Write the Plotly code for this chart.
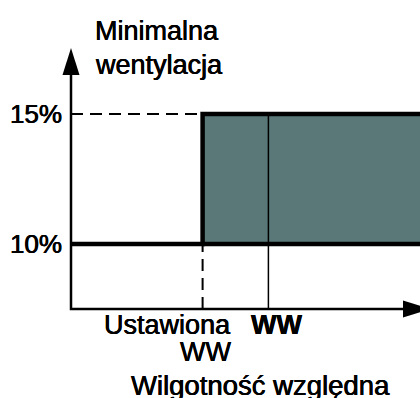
import plotly.graph_objects as go

# Minimal ventilation levels (%) and their tick labels
levels = [10, 15]
level_labels = ["10%", "15%"]

# Positions on the relative-humidity axis (arbitrary units)
setpoint_rh = 4      # "Ustawiona WW" – humidity setpoint
current_rh = 6       # "WW" – current relative humidity

x_label_setpoint = ["Ustawiona", "WW"]
x_label_current = "<b>WW</b>"
x_title = "Wilgotność względna"
y_title = ["Minimalna", "wentylacja"]

FONT = "Liberation Sans, Arial, Helvetica, sans-serif"
FILL = "#5a7878"

# scale of the diagram: pixels per axis unit
PX_X, PX_Y = 32.9, 26.0
W, H = 420, 398
X0_PX, Y0_PX = 71, 309          # where the two axes cross
x_origin, y_origin = 0.0, 7.5

x_min = x_origin - X0_PX / PX_X
x_max = x_origin + (W - X0_PX) / PX_X
y_min = y_origin - (H - Y0_PX) / PX_Y
y_max = y_origin + Y0_PX / PX_Y

lo, hi = levels
x_far = x_max + 1                # lines run off the right edge
y_arrow_tip = y_origin + (Y0_PX - 48) / PX_Y
y_arrow_base = y_arrow_tip - 27 / PX_Y
x_arrow_base = x_origin + (403 - X0_PX) / PX_X
x_arrow_tip = x_arrow_base + 27 / PX_X
half_w_x = 8.5 / PX_X
half_w_y = 8.5 / PX_Y

fig = go.Figure()

def line(xs, ys, width, dash="solid", color="black"):
    fig.add_trace(go.Scatter(x=xs, y=ys, mode="lines", hoverinfo="skip",
                             line=dict(color=color, width=width, dash=dash)))

# shaded zone: raised minimal ventilation above the setpoint
fig.add_trace(go.Scatter(x=[setpoint_rh, x_far, x_far, setpoint_rh],
                         y=[lo, lo, hi, hi], fill="toself", fillcolor=FILL,
                         mode="lines", line=dict(width=0), hoverinfo="skip"))

# guide lines
line([x_origin, setpoint_rh], [hi, hi], 2, dash="12px,7px")
line([setpoint_rh, setpoint_rh], [y_origin, lo], 2, dash="12px,7px")
line([current_rh, current_rh], [y_origin, hi], 1.5)

# step characteristic
line([x_origin, setpoint_rh, setpoint_rh, x_far], [lo, lo, hi, hi], 4.5)
line([setpoint_rh, x_far], [lo, lo], 4.5)

# axes with arrowheads
line([x_origin, x_origin, x_arrow_base], [y_arrow_base + 0.05, y_origin, y_origin], 2.5)
fig.add_trace(go.Scatter(x=[x_origin - half_w_x, x_origin, x_origin + half_w_x],
                         y=[y_arrow_base, y_arrow_tip, y_arrow_base],
                         fill="toself", fillcolor="black", mode="lines",
                         line=dict(width=0, color="black"), hoverinfo="skip"))
fig.add_trace(go.Scatter(x=[x_arrow_base, x_arrow_tip, x_arrow_base],
                         y=[y_origin - half_w_y, y_origin, y_origin + half_w_y],
                         fill="toself", fillcolor="black", mode="lines",
                         line=dict(width=0, color="black"), hoverinfo="skip"))

SHADOW = "0.35px 0 0 #000, -0.35px 0 0 #000"
tick_font = dict(family=FONT, size=26, color="black", shadow=SHADOW)
font = dict(family=FONT, size=27, color="black", shadow=SHADOW)
title_font = dict(family=FONT, size=27.5, color="black", shadow=SHADOW)

ann = []
for v, t in zip(levels, level_labels):
    ann.append(dict(x=x_origin, y=v, text=t, xanchor="right", yanchor="middle",
                    xshift=-7, showarrow=False, font=tick_font))
for i, t in enumerate(y_title):
    ann.append(dict(x=x_origin, y=hi, text=t, xanchor="left", yanchor="top",
                    xshift=22, yshift=100 - 34 * i, showarrow=False, font=font))
for i, t in enumerate(x_label_setpoint):
    ann.append(dict(x=setpoint_rh, y=y_origin, text=t, xanchor="right",
                    yanchor="top", xshift=30, yshift=1 - 27 * i,
                    showarrow=False, font=font))
ann.append(dict(x=current_rh, y=y_origin, text=x_label_current, xanchor="center",
                yanchor="top", xshift=8, yshift=1, showarrow=False, font=font))
ann.append(dict(x=current_rh, y=y_origin, text=x_title, xanchor="center",
                yanchor="top", xshift=-8, yshift=-59, showarrow=False,
                font=title_font))

fig.update_layout(
    width=W, height=H, margin=dict(l=0, r=0, t=0, b=0),
    paper_bgcolor="white", plot_bgcolor="white", showlegend=False,
    xaxis=dict(range=[x_min, x_max], visible=False, fixedrange=True),
    yaxis=dict(range=[y_min, y_max], visible=False, fixedrange=True),
    annotations=ann,
)

fig.write_html("out.html")
